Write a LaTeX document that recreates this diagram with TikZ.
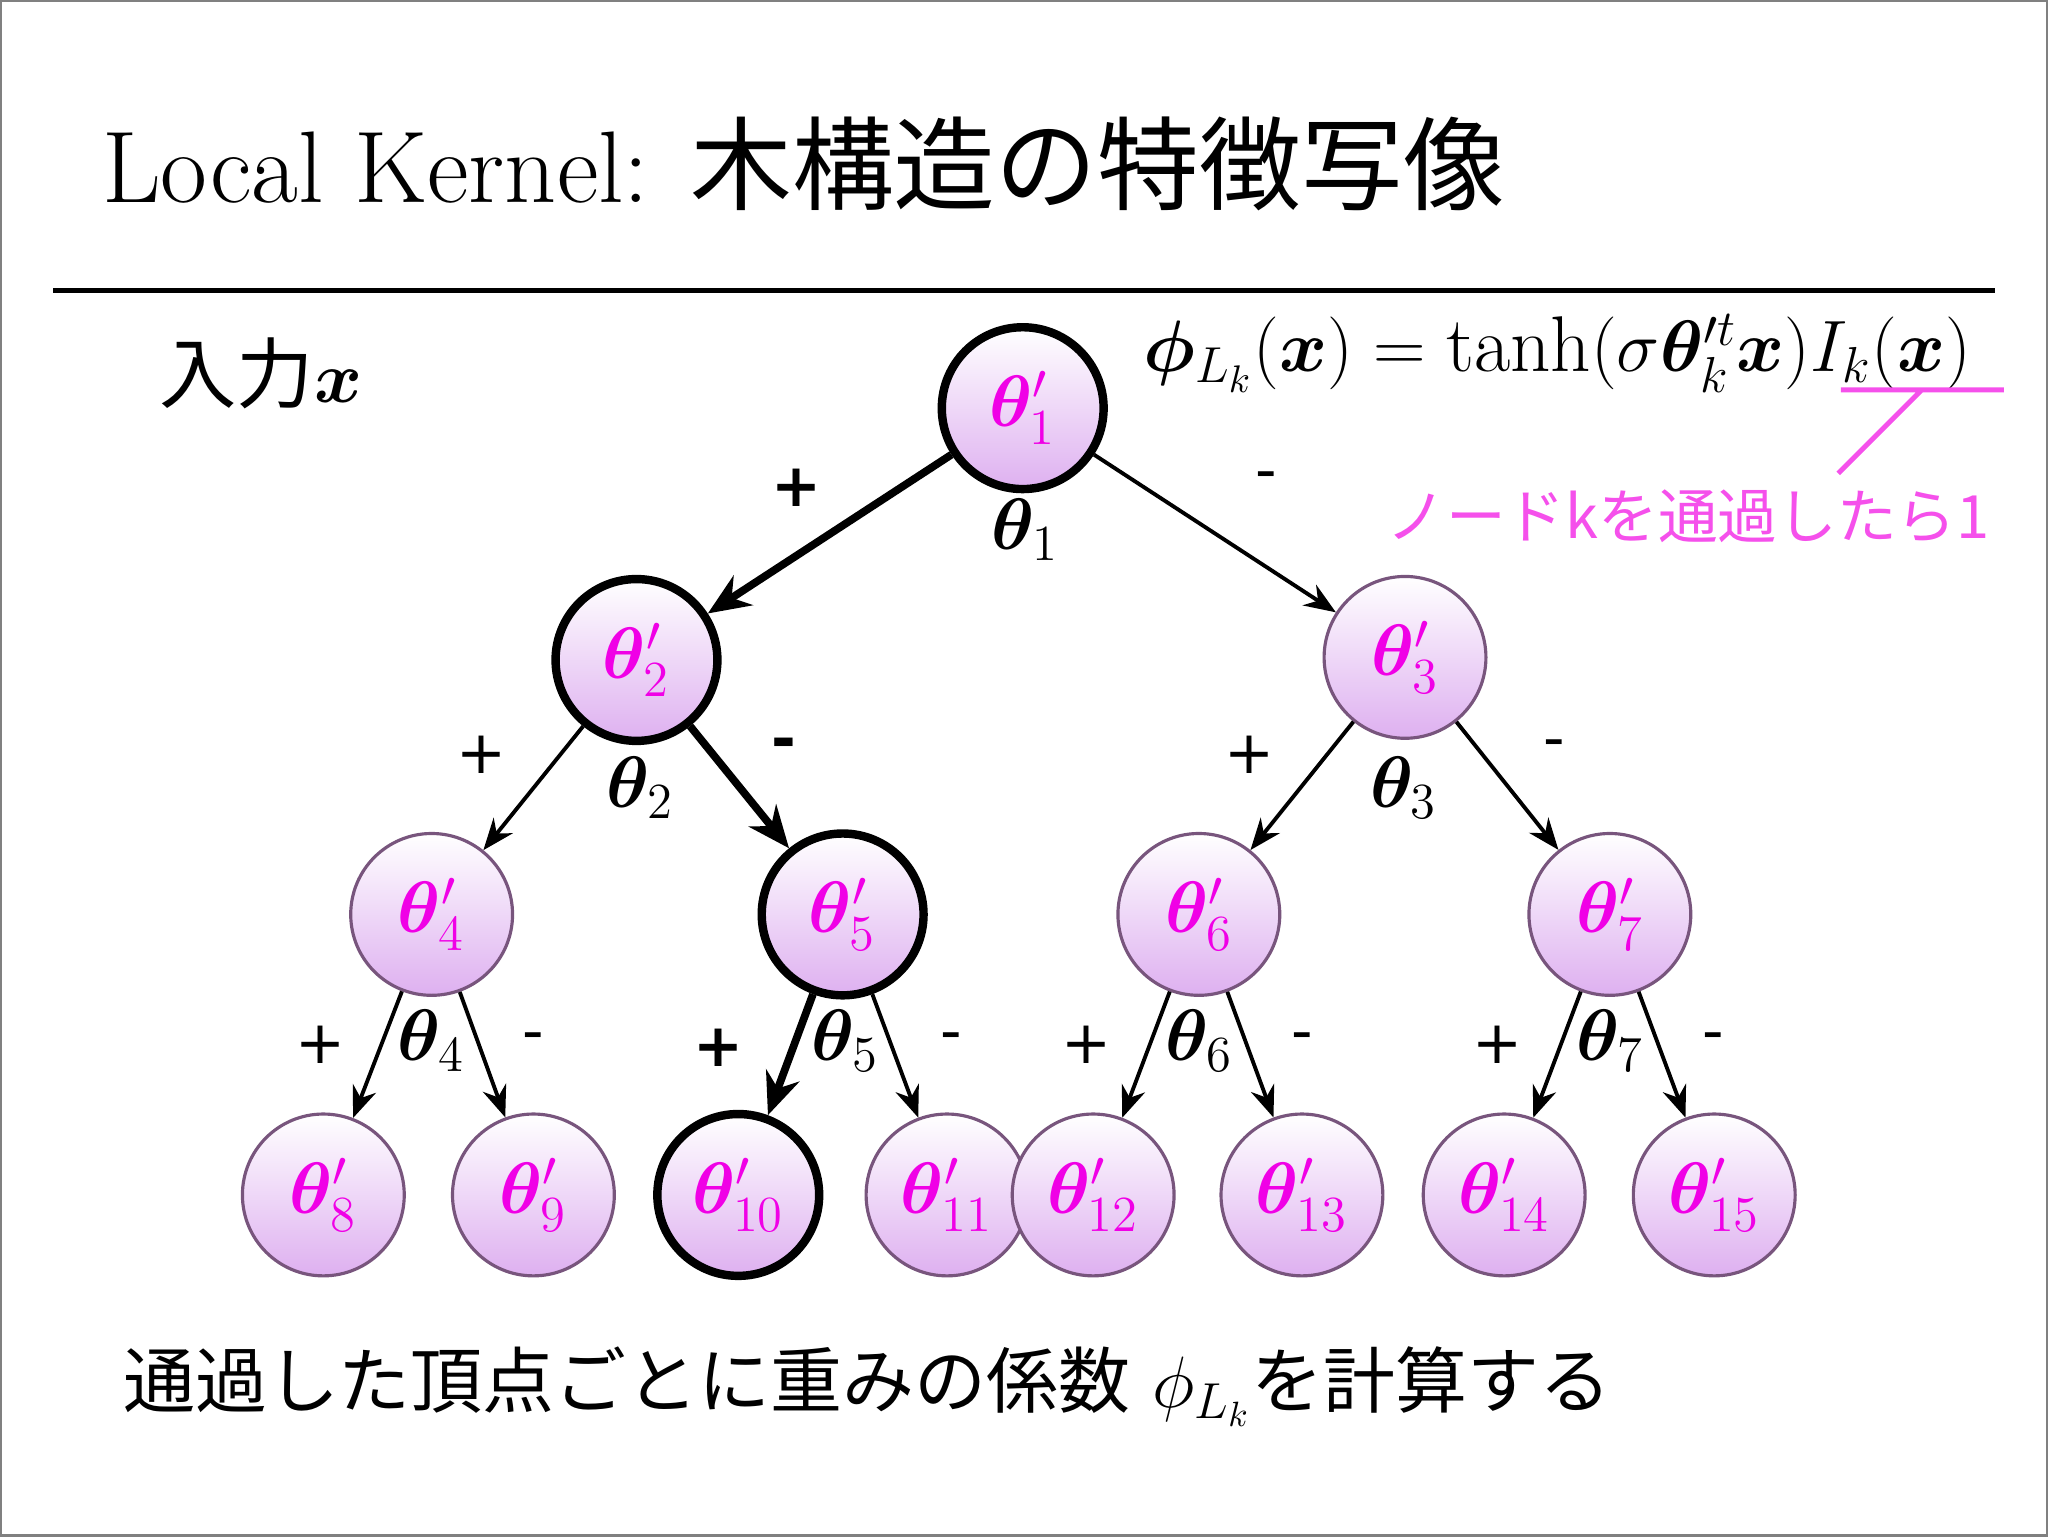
\documentclass[tikz,border=0pt]{standalone}
\usepackage{amsmath,bm}
\usepackage{fontspec}
\newfontfamily\jp{Noto Sans CJK JP}
\newfontfamily\pmf{DejaVu Sans}
\usetikzlibrary{arrows.meta}
\definecolor{mag}{RGB}{240,0,230}
\definecolor{pinkl}{RGB}{245,80,235}
\definecolor{lav}{RGB}{222,176,240}
\definecolor{brd}{RGB}{120,85,125}
\tikzset{
 tn/.style={circle,minimum size=1.62cm,inner sep=0pt,top color=white,bottom color=lav,draw=brd,line width=0.9pt,text=mag,font=\fontsize{22}{26}\selectfont},
 tnb/.style={tn,draw=black,line width=2.4pt},
 ar/.style={-{Stealth[length=9pt,width=7pt]},line width=1.1pt},
 arb/.style={-{Stealth[length=12pt,width=10pt]},line width=2.2pt},
 lb/.style={font=\fontsize{22}{26}\selectfont},
 pm/.style={font=\pmf\fontsize{17}{20}\selectfont},
}
\begin{document}
\begin{tikzpicture}[x=0.01306cm,y=-0.01306cm]
\draw[gray,line width=0.6pt] (0,0) rectangle (1568,1176);
\useasboundingbox (0,0) rectangle (1568,1176);
\node[anchor=west,font=\fontsize{29}{34}\selectfont] (title) at (68,125) {Local Kernel: {\jp 木構造の特徴写像}};
\draw[line width=1.5pt] (40,222) -- (1528,222);
\node[anchor=west,font=\fontsize{22}{26}\selectfont] (inp) at (112,285) {{\jp 入力}$\bm{x}$};
\node[anchor=west,font=\fontsize{22.5}{26}\selectfont] (form) at (866,270) {$\bm{\phi}_{L_k}(\bm{x})=\tanh(\sigma\bm{\theta}'^{t}_{k}\bm{x})I_k(\bm{x})$};
\coordinate (u1) at (1410,298); \coordinate (u2) at (1535,298);
\coordinate (d1) at (1472,298); \coordinate (d2) at (1408,362);
\draw[pinkl,line width=1.4pt] (u1)--(u2) (d1)--(d2);
\node[text=pinkl,font=\jp\fontsize{17}{20}\selectfont] (ann) at (1293,395) {ノードkを通過したら1};
\node[tnb] (n1) at (783,312) {$\bm{\theta}'_1$};
\node[tnb] (n2) at (487,505) {$\bm{\theta}'_2$};
\node[tn] (n3) at (1076,503) {$\bm{\theta}'_3$};
\node[tn] (n4) at (330,700) {$\bm{\theta}'_4$};
\node[tnb] (n5) at (645,700) {$\bm{\theta}'_5$};
\node[tn] (n6) at (918,700) {$\bm{\theta}'_6$};
\node[tn] (n7) at (1233,700) {$\bm{\theta}'_7$};
\node[tn] (n8) at (247,915) {$\bm{\theta}'_8$};
\node[tn] (n9) at (408,915) {$\bm{\theta}'_9$};
\node[tnb] (n10) at (565,915) {$\bm{\theta}'_{10}$};
\node[tn] (n11) at (725,915) {$\bm{\theta}'_{11}$};
\node[tn] (n12) at (837,915) {$\bm{\theta}'_{12}$};
\node[tn] (n13) at (997,915) {$\bm{\theta}'_{13}$};
\node[tn] (n14) at (1152,915) {$\bm{\theta}'_{14}$};
\node[tn] (n15) at (1313,915) {$\bm{\theta}'_{15}$};
\draw[arb] (n1)--(n2); \draw[ar] (n1)--(n3);
\draw[ar] (n2)--(n4); \draw[arb] (n2)--(n5);
\draw[ar] (n3)--(n6); \draw[ar] (n3)--(n7);
\draw[ar] (n4)--(n8); \draw[ar] (n4)--(n9);
\draw[arb] (n5)--(n10); \draw[ar] (n5)--(n11);
\draw[ar] (n6)--(n12); \draw[ar] (n6)--(n13);
\draw[ar] (n7)--(n14); \draw[ar] (n7)--(n15);
\node[pm] (p1) at (610,373) {\bfseries +}; \node[pm] (m1) at (970,368) {-}; \node[lb] (t1) at (785,405) {$\bm{\theta}_1$};
\node[pm] (p2) at (368,578) {+}; \node[pm] (m2) at (600,573) {\bfseries -}; \node[lb] (t2) at (490,603) {$\bm{\theta}_2$};
\node[pm] (p3) at (957,578) {+}; \node[pm] (m3) at (1190,573) {-}; \node[lb] (t3) at (1075,603) {$\bm{\theta}_3$};
\node[pm] (p4) at (245,800) {+}; \node[pm] (m4) at (408,798) {-}; \node[lb] (t4) at (330,797) {$\bm{\theta}_4$};
\node[pm] (p5) at (550,802) {\bfseries +}; \node[pm] (m5) at (728,798) {-}; \node[lb] (t5) at (647,797) {$\bm{\theta}_5$};
\node[pm] (p6) at (832,800) {+}; \node[pm] (m6) at (997,798) {-}; \node[lb] (t6) at (918,797) {$\bm{\theta}_6$};
\node[pm] (p7) at (1147,800) {+}; \node[pm] (m7) at (1312,798) {-}; \node[lb] (t7) at (1233,797) {$\bm{\theta}_7$};
\node[anchor=west,font=\fontsize{20.5}{25}\selectfont] (bot) at (84,1062) {{\jp 通過した頂点ごとに重みの係数} $\phi_{L_k}${\jp を計算する}};
\end{tikzpicture}
\end{document}
